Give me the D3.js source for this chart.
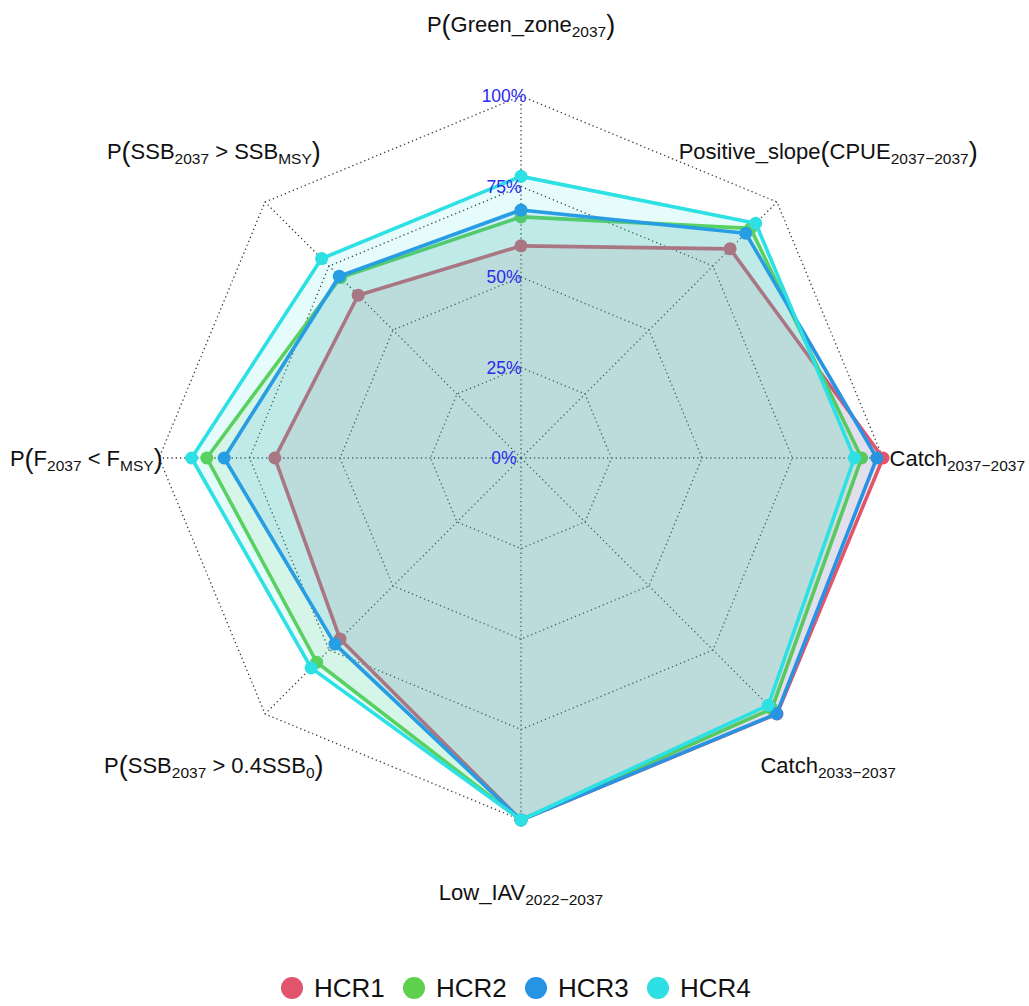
<!DOCTYPE html>
<html>
<head>
<meta charset="utf-8">
<script src="https://cdn.jsdelivr.net/npm/d3@7"></script>
<style>
  html, body { margin: 0; padding: 0; background: #ffffff; }
  svg { display: block; font-family: "Liberation Sans", Arial, sans-serif; }
</style>
</head>
<body>
<svg id="chart" width="1029" height="1006"></svg>
<script>
// Axis labels, clockwise from the top. Each label is a list of text pieces:
// "n" normal, "s" subscript, "p" large bracket.
const axisLabels = [
  [["n","P"],["p","("],["n","Green_zone"],["s","2037"],["p",")"]],
  [["n","Positive_slope"],["p","("],["n","CPUE"],["s","2037\u22122037"],["p",")"]],
  [["n","Catch"],["s","2037\u22122037"]],
  [["n","Catch"],["s","2033\u22122037"]],
  [["n","Low_IAV"],["s","2022\u22122037"]],
  [["n","P"],["p","("],["n","SSB"],["s","2037"],["n"," > 0.4SSB"],["s","0"],["p",")"]],
  [["n","P"],["p","("],["n","F"],["s","2037"],["n"," < F"],["s","MSY"],["p",")"]],
  [["n","P"],["p","("],["n","SSB"],["s","2037"],["n"," > SSB"],["s","MSY"],["p",")"]]
];

const series = ["HCR1", "HCR2", "HCR3", "HCR4"];
const seriesColors = ["#e0546c", "#5fd04e", "#2794e3", "#2ce0e3"];

// Proportions per axis (same order as axisLabels)
const hcr1 = [0.586, 0.817, 1.000, 1.000, 1.000, 0.707, 0.680, 0.636];
const hcr2 = [0.666, 0.897, 0.941, 0.980, 1.000, 0.798, 0.868, 0.705];
const hcr3 = [0.685, 0.878, 0.983, 0.999, 1.000, 0.727, 0.820, 0.710];
const hcr4 = [0.778, 0.917, 0.921, 0.966, 1.000, 0.820, 0.910, 0.779];
const seriesValues = [hcr1, hcr2, hcr3, hcr4];

const gridLevels = [0, 0.25, 0.5, 0.75, 1];
const gridText = ["0%", "25%", "50%", "75%", "100%"];

const svg = d3.select("#chart");
const cx = 521, cy = 458, R = 362;

const r = d3.scaleLinear().domain([0, 1]).range([0, R]);
const angle = d3.scaleLinear().domain([0, axisLabels.length]).range([0, 2 * Math.PI]);

const g = svg.append("g").attr("transform", `translate(${cx},${cy})`);

const pt = (i, v) => {
  const a = angle(i);
  return [r(v) * Math.sin(a), -r(v) * Math.cos(a)];
};

// Dotted grid octagons
const ring = d3.lineRadial()
  .angle((d, i) => angle(i))
  .radius(d => r(d))
  .curve(d3.curveLinearClosed);

g.selectAll("path.grid")
  .data(gridLevels.filter(l => l > 0))
  .join("path")
  .attr("class", "grid")
  .attr("d", l => ring(axisLabels.map(() => l)))
  .attr("fill", "none")
  .attr("stroke", "#3a3a3a")
  .attr("stroke-width", 1.3)
  .attr("stroke-dasharray", "1.3,3");

// Spokes
g.selectAll("line.spoke")
  .data(axisLabels)
  .join("line")
  .attr("class", "spoke")
  .attr("x1", 0).attr("y1", 0)
  .attr("x2", (d, i) => pt(i, 1)[0])
  .attr("y2", (d, i) => pt(i, 1)[1])
  .attr("stroke", "#3a3a3a")
  .attr("stroke-width", 1.3)
  .attr("stroke-dasharray", "1.3,3");

// Series polygons, points
const area = d3.lineRadial()
  .angle((d, i) => angle(i))
  .radius(d => r(d))
  .curve(d3.curveLinearClosed);

seriesValues.forEach((vals, s) => {
  const col = seriesColors[s];
  const sg = g.append("g").attr("class", "series");
  sg.append("path")
    .attr("d", area(vals))
    .attr("fill", col)
    .attr("fill-opacity", 0.12)
    .attr("stroke", col)
    .attr("stroke-width", 3.6)
    .attr("stroke-linejoin", "round");
  sg.selectAll("circle")
    .data(vals)
    .join("circle")
    .attr("cx", (v, i) => pt(i, v)[0])
    .attr("cy", (v, i) => pt(i, v)[1])
    .attr("r", 6.5)
    .attr("fill", col);
});

// Percentage labels along the top spoke
g.selectAll("text.gridlab")
  .data(gridLevels)
  .join("text")
  .attr("class", "gridlab")
  .attr("x", -17)
  .attr("y", l => -r(l))
  .attr("dy", "0.35em")
  .attr("text-anchor", "middle")
  .attr("fill", "#2a2aee")
  .attr("font-size", 17.5)
  .text((l, i) => gridText[i]);

// Axis labels
function writeLabel(sel, pieces) {
  let shifted = 0;
  pieces.forEach(([kind, t]) => {
    const ts = sel.append("tspan").text(t);
    if (kind === "s") {
      ts.attr("font-size", 15.5).attr("dy", 5 - shifted);
      shifted = 5;
    } else if (kind === "p") {
      ts.attr("font-size", 27).attr("dy", 2 - shifted);
      shifted = 2;
    } else {
      ts.attr("dy", -shifted);
      shifted = 0;
    }
  });
}

axisLabels.forEach((pieces, i) => {
  const a = angle(i);
  const s = Math.sin(a), c = Math.cos(a);
  const horizontal = Math.abs(c) < 1e-6;
  const rad = horizontal ? R * (s > 0 ? 1.018 : 0.99) : R * 1.2;
  const x = rad * s, y = -rad * c;
  const anchor = horizontal ? (s > 0 ? "start" : "end") : "middle";
  const t = g.append("text")
    .attr("x", x)
    .attr("y", y + 8)
    .attr("text-anchor", anchor)
    .attr("font-size", 22)
    .attr("fill", "#111111");
  writeLabel(t, pieces);
});

// Legend
const legend = svg.append("g").attr("transform", "translate(0,988)");
const legX = [292, 414, 536, 658];
series.forEach((name, s) => {
  legend.append("circle")
    .attr("cx", legX[s]).attr("cy", 0).attr("r", 11)
    .attr("fill", seriesColors[s]);
  legend.append("text")
    .attr("x", legX[s] + 22).attr("y", 0)
    .attr("dy", "0.36em")
    .attr("font-size", 26)
    .attr("fill", "#111111")
    .text(name);
});
</script>
</body>
</html>
